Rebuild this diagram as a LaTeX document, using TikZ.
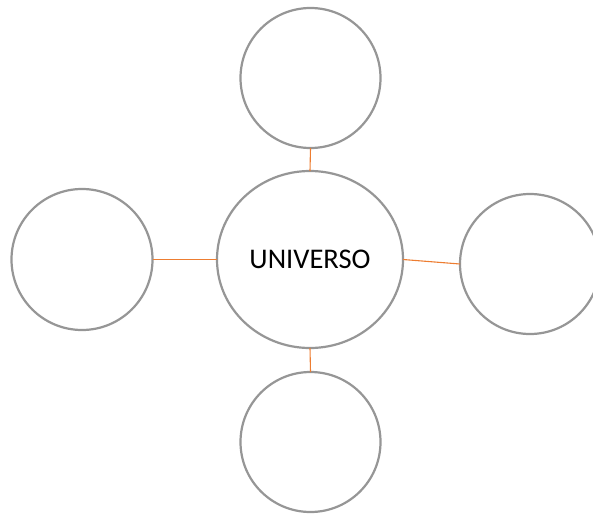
\documentclass[tikz,border=0pt]{standalone}
\usepackage{fontspec}
\setmainfont{Carlito}
\usetikzlibrary{shapes.geometric}
\definecolor{ringgray}{RGB}{150,150,150}
\definecolor{linkorange}{RGB}{237,125,49}
\tikzset{
  ring/.style={circle, draw=ringgray, line width=2.2pt, fill=white, inner sep=0pt, outer sep=0pt, minimum size=140pt},
  hub/.style={ellipse, draw=ringgray, line width=2.2pt, fill=white, inner sep=0pt, outer sep=0pt, minimum width=186pt, minimum height=177pt, font=\fontsize{28.5pt}{34pt}\selectfont},
  link/.style={draw=linkorange, line width=1.1pt}
}
\begin{document}
\begin{tikzpicture}[x=1pt,y=-1pt]
\useasboundingbox (0,0) rectangle (593,514);
\node[hub] (c) at (310,259.5) {UNIVERSO};
\node[ring] (t) at (310.5,78) {};
\node[ring] (b) at (310.5,442) {};
\node[ring, minimum size=141pt] (l) at (82,259.5) {};
\node[ring] (r) at (530,264) {};
\draw[link] (c.north) -- (t.south);
\draw[link] (c.south) -- (b.north);
\draw[link] (c.west) -- (l.east);
\draw[link] (c.east) -- (r.west);
\end{tikzpicture}
\end{document}
